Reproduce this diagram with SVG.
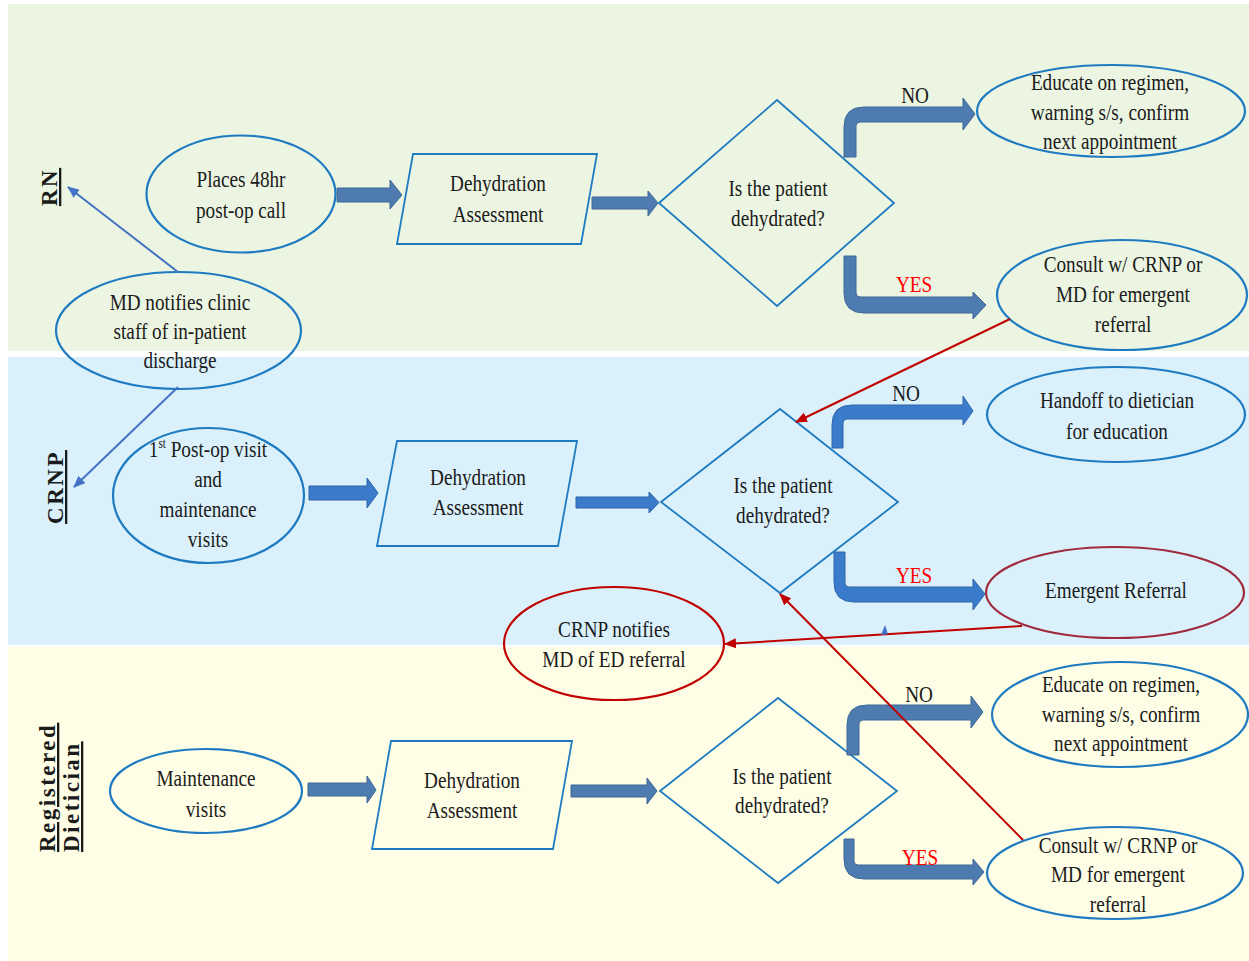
<svg xmlns="http://www.w3.org/2000/svg" width="1249" height="961" viewBox="0 0 1249 961">
<style>
.t{font-family:"Liberation Serif","Times New Roman",serif;font-size:24px;fill:#1b1b1b;text-anchor:middle}
.red{fill:#ff0000}
.lane{font-family:"Liberation Serif","Times New Roman",serif;font-size:23px;font-weight:bold;fill:#1b1b1b;text-decoration:underline;letter-spacing:2.5px}
.el{fill:none;stroke:#1f7bc1;stroke-width:2.2}
.elr{fill:none;stroke:#c00000;stroke-width:2.2}
.eld{fill:none;stroke:#a02b3c;stroke-width:2.2}
.sh{fill:none;stroke:#1f7bc1;stroke-width:1.8}
.ba{fill:#4e7cb0;stroke:#3c6796;stroke-width:1}
.bb{fill:#3b7bcb;stroke:#2f65a8;stroke-width:1}
.lb{stroke:#4472c4;stroke-width:2;fill:none}
.lr{stroke:#c00000;stroke-width:2;fill:none}
</style>
<defs>
<marker id="mb" markerUnits="userSpaceOnUse" markerWidth="12" markerHeight="10" refX="11" refY="5" orient="auto"><path d="M0,0 L12,5 L0,10 Z" fill="#4472c4"/></marker>
<marker id="mr" markerUnits="userSpaceOnUse" markerWidth="12" markerHeight="10" refX="11" refY="5" orient="auto"><path d="M0,0 L12,5 L0,10 Z" fill="#c00000"/></marker>
</defs>
<g id="lanes">
<rect x="8" y="4" width="1241" height="347" fill="#ecf5e2"/>
<rect x="8" y="357" width="1241" height="288" fill="#daf1fb"/>
<rect x="8" y="647" width="1241" height="314" fill="#fefee6"/>
<text class="lane" text-anchor="middle" transform="translate(57,187) rotate(-90)">RN</text>
<text class="lane" text-anchor="middle" transform="translate(63,487) rotate(-90)">CRNP</text>
<text class="lane" text-anchor="start" transform="translate(55,852) rotate(-90)">Registered</text>
<text class="lane" text-anchor="start" transform="translate(79,852) rotate(-90)">Dietician</text>
</g>
<g id="n-places"><ellipse class="el" cx="241" cy="194" rx="94.5" ry="58.5"/>
<text class="t" transform="translate(241 0) scale(0.8 1)"><tspan x="0" y="187">Places 48hr</tspan><tspan x="0" y="218">post-op call</tspan></text></g>
<g id="n-rn-assess"><polygon class="sh" points="413,154 597,154 581,244 397,244"/>
<text class="t" transform="translate(498 0) scale(0.8 1)"><tspan x="0" y="191">Dehydration</tspan><tspan x="0" y="222">Assessment</tspan></text></g>
<g id="n-rn-dec"><polygon class="sh" points="659,203 777,100 894,203 777,306"/>
<text class="t" transform="translate(778 0) scale(0.8 1)"><tspan x="0" y="196">Is the patient</tspan><tspan x="0" y="226">dehydrated?</tspan></text></g>
<g id="n-rn-educate"><ellipse class="el" cx="1111" cy="111" rx="134" ry="46"/>
<text class="t" transform="translate(1110 0) scale(0.8 1)"><tspan x="0" y="90">Educate on regimen,</tspan><tspan x="0" y="120">warning s/s, confirm</tspan><tspan x="0" y="149">next appointment</tspan></text></g>
<g id="n-rn-consult"><ellipse class="el" cx="1122" cy="295" rx="125" ry="55"/>
<text class="t" transform="translate(1123 0) scale(0.8 1)"><tspan x="0" y="272">Consult w/ CRNP or</tspan><tspan x="0" y="302">MD for emergent</tspan><tspan x="0" y="332">referral</tspan></text></g>
<g id="n-md"><ellipse class="el" cx="178.5" cy="330.5" rx="122.5" ry="58.5"/>
<text class="t" transform="translate(180 0) scale(0.8 1)"><tspan x="0" y="310">MD notifies clinic</tspan><tspan x="0" y="339">staff of in-patient</tspan><tspan x="0" y="368">discharge</tspan></text></g>
<g id="n-postop"><ellipse class="el" cx="208.5" cy="495.5" rx="95.5" ry="67.5"/>
<text class="t" transform="translate(208 0) scale(0.8 1)"><tspan x="0" y="457">1<tspan font-size="14" dy="-9">st</tspan><tspan dy="9"> Post-op visit</tspan></tspan><tspan x="0" y="487">and</tspan><tspan x="0" y="517">maintenance</tspan><tspan x="0" y="547">visits</tspan></text></g>
<g id="n-crnp-assess"><polygon class="sh" points="397,441 577,441 558,546 377,546"/>
<text class="t" transform="translate(478 0) scale(0.8 1)"><tspan x="0" y="485">Dehydration</tspan><tspan x="0" y="515">Assessment</tspan></text></g>
<g id="n-crnp-dec"><polygon class="sh" points="661,502 780,409 898,502 780,593"/>
<text class="t" transform="translate(783 0) scale(0.8 1)"><tspan x="0" y="493">Is the patient</tspan><tspan x="0" y="523">dehydrated?</tspan></text></g>
<g id="n-handoff"><ellipse class="el" cx="1116" cy="414.5" rx="129" ry="47.5"/>
<text class="t" transform="translate(1117 0) scale(0.8 1)"><tspan x="0" y="408">Handoff to dietician</tspan><tspan x="0" y="439">for education</tspan></text></g>
<g id="n-emergent"><ellipse class="eld" cx="1115" cy="592.5" rx="129" ry="45.5"/>
<text class="t" transform="translate(1116 0) scale(0.8 1)"><tspan x="0" y="598">Emergent Referral</tspan></text></g>
<g id="n-crnp-notifies"><ellipse class="elr" cx="614" cy="643.5" rx="110" ry="56.5"/>
<text class="t" transform="translate(614 0) scale(0.8 1)"><tspan x="0" y="637">CRNP notifies</tspan><tspan x="0" y="667">MD of ED referral</tspan></text></g>
<g id="n-maint"><ellipse class="el" cx="206" cy="791" rx="96" ry="42"/>
<text class="t" transform="translate(206 0) scale(0.8 1)"><tspan x="0" y="786">Maintenance</tspan><tspan x="0" y="817">visits</tspan></text></g>
<g id="n-rd-assess"><polygon class="sh" points="391,741 572,741 553,849 372,849"/>
<text class="t" transform="translate(472 0) scale(0.8 1)"><tspan x="0" y="788">Dehydration</tspan><tspan x="0" y="818">Assessment</tspan></text></g>
<g id="n-rd-dec"><polygon class="sh" points="660,791 778,698 897,791 778,883"/>
<text class="t" transform="translate(782 0) scale(0.8 1)"><tspan x="0" y="784">Is the patient</tspan><tspan x="0" y="813">dehydrated?</tspan></text></g>
<g id="n-rd-educate"><ellipse class="el" cx="1120" cy="714.5" rx="128" ry="52.5"/>
<text class="t" transform="translate(1121 0) scale(0.8 1)"><tspan x="0" y="692">Educate on regimen,</tspan><tspan x="0" y="722">warning s/s, confirm</tspan><tspan x="0" y="751">next appointment</tspan></text></g>
<g id="n-rd-consult"><ellipse class="el" cx="1115" cy="873" rx="128" ry="46"/>
<text class="t" transform="translate(1118 0) scale(0.8 1)"><tspan x="0" y="853">Consult w/ CRNP or</tspan><tspan x="0" y="882">MD for emergent</tspan><tspan x="0" y="912">referral</tspan></text></g>
<g id="connectors">
<path class="ba" d="M337,188 H390 V180 L402,195 L390,209 V202 H337 Z"/>
<path class="ba" d="M592,197 H648 V191 L658,203 L648,216 V209 H592 Z"/>
<path class="ba" d="M844,157 V127 Q844,107 864,107 H963 V98 L975,114 L963,130 V122 H860 Q856,122 856,126 V157 Z"/>
<path class="ba" d="M844,256 H856 V293 Q856,297 860,297 H973 V292 L986,305 L973,319 V313 H864 Q844,313 844,293 Z"/>
<path class="bb" d="M309,486 H367 V478 L378,493 L367,508 V500 H309 Z"/>
<path class="bb" d="M576,497 H649 V492 L659,502.5 L649,513 V508 H576 Z"/>
<path class="bb" d="M832,448 V425 Q832,405 852,405 H963 V396 L973,411 L963,425 V419 H847 Q843,419 843,423 V448 Z"/>
<path class="bb" d="M834,552 H845 V583 Q845,587 849,587 H973 V579 L985,594 L973,610 V602 H854 Q834,602 834,582 Z"/>
<path class="ba" d="M308,783 H367 V776 L376,790 L367,803 V796 H308 Z"/>
<path class="ba" d="M571,785 H647 V778 L657,791 L647,804 V797 H571 Z"/>
<path class="ba" d="M847,755 V725 Q847,705 867,705 H971 V696 L983,712 L971,728 V720 H863 Q859,720 859,724 V755 Z"/>
<path class="ba" d="M844,839 H854 V861 Q854,865 858,865 H973 V859 L984,872 L973,885 V879 H864 Q844,879 844,859 Z"/>
<line class="lb" x1="178" y1="272" x2="68" y2="187" marker-end="url(#mb)"/>
<line class="lb" x1="178" y1="387" x2="74" y2="487" marker-end="url(#mb)"/>
<line class="lr" x1="1010" y1="319" x2="796" y2="422" marker-end="url(#mr)"/>
<line class="lr" x1="1022" y1="626" x2="725" y2="644" marker-end="url(#mr)"/>
<line class="lr" x1="1023" y1="840" x2="780" y2="594" marker-end="url(#mr)"/>
<polygon points="881,635 885,625 888,634" fill="#4472c4"/>
<text class="t" transform="translate(915 0) scale(0.8 1)" x="0" y="103">NO</text>
<text class="t red" transform="translate(914 0) scale(0.8 1)" x="0" y="292">YES</text>
<text class="t" transform="translate(906 0) scale(0.8 1)" x="0" y="401">NO</text>
<text class="t red" transform="translate(914 0) scale(0.8 1)" x="0" y="583">YES</text>
<text class="t" transform="translate(919 0) scale(0.8 1)" x="0" y="702">NO</text>
<text class="t red" transform="translate(920 0) scale(0.8 1)" x="0" y="865">YES</text>
</g>
</svg>
